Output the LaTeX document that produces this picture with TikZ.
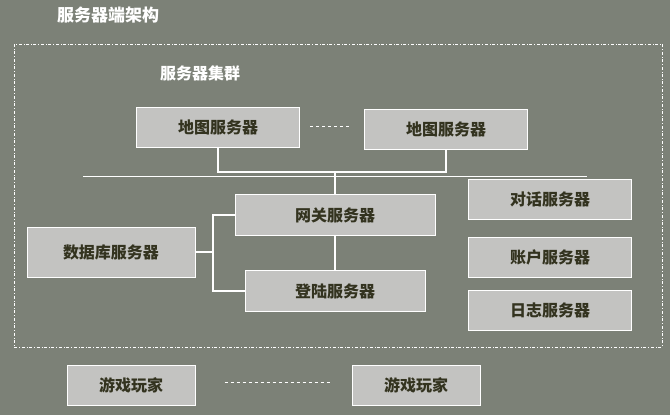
\documentclass[tikz,border=0pt]{standalone}
\usepackage{fontspec}
\newfontfamily\cjk{Noto Sans CJK SC}
\usetikzlibrary{positioning}
\definecolor{board}{HTML}{7C8177}
\definecolor{boxfill}{HTML}{C3C3C1}
\definecolor{boxtext}{HTML}{33331F}
\begin{document}
\begin{tikzpicture}[
    x=1pt, y=-1pt,
    srvbox/.style={
        rectangle,
        draw=white,
        line width=1pt,
        fill=boxfill,
        text=boxtext,
        minimum width=163pt,
        minimum height=40pt,
        font=\cjk\bfseries\fontsize{16}{18}\selectfont
    },
    link/.style={draw=white!90, line width=2pt},
    gap/.style={draw=white, dashed, line width=0.6pt}
]
    % Background
    \fill[board] (0,0) rectangle (670,415);
    \node[text=white, font=\cjk\bfseries\fontsize{17}{19}\selectfont] (title) at (108,15) {服务器端架构};
    \draw[white, dash dot, line width=0.6pt] (14,44) rectangle (662,347);
    \node[text=white, font=\cjk\bfseries\fontsize{16}{18}\selectfont] (cluster) at (200,73) {服务器集群};

    % Map servers
    \node[srvbox] (map1) at (218,127) {地图服务器};
    \node[srvbox] (map2) at (446,129) {地图服务器};

    % Core servers
    \node[srvbox, minimum width=200pt, minimum height=41pt] (gate) at (335,215) {网关服务器};
    \node[srvbox, minimum width=180pt, minimum height=41pt] (login) at (335,291) {登陆服务器};
    \node[srvbox, minimum width=168pt, minimum height=50pt] (db) at (111,252) {数据库服务器};

    % Other servers
    \node[srvbox] (talk) at (550,199) {对话服务器};
    \node[srvbox] (acct) at (550,257) {账户服务器};
    \node[srvbox] (log) at (550,310) {日志服务器};

    % Players
    \node[srvbox, minimum width=128pt] (p1) at (131,385) {游戏玩家};
    \node[srvbox, minimum width=128pt] (p2) at (416,385) {游戏玩家};

    % Connectors
    \coordinate (hub) at (335,172);
    \coordinate (busl) at (83,176);
    \coordinate (busr) at (587,176);
    \draw[white, line width=1pt] (busl) -- (busr);
    \draw[link] (map1.south) |- (hub);
    \draw[link] (map2.south) |- (hub);
    \draw[link] (hub) -- (gate.north);
    \draw[link] (gate) -- (login);
    \draw[link] (db.east) -- ++(17,0) |- (gate.west);
    \draw[link] (db.east) -- ++(17,0) |- (login.west);
    \draw[gap] (map1.east) ++(10,-1) -- ++(42,0);
    \draw[gap] (p1.east) ++(29,-3) -- ++(106,0);
\end{tikzpicture}
\end{document}
